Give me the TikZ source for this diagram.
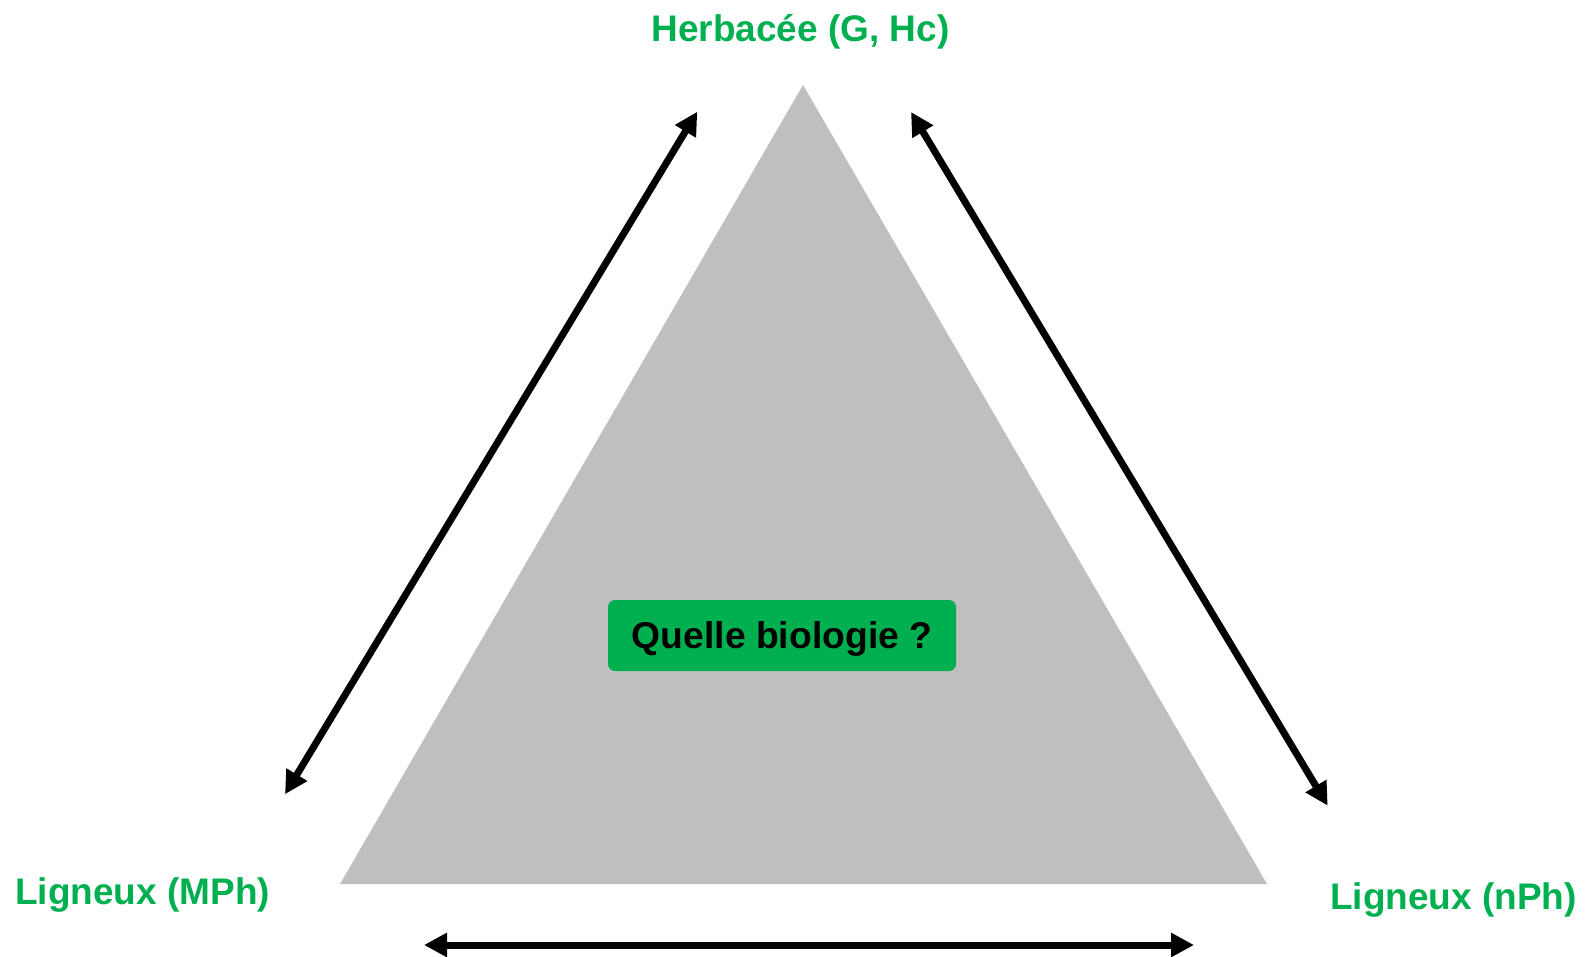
\documentclass[tikz,border=0pt]{standalone}
\usepackage{fontspec}
\setmainfont{Liberation Sans}
\usetikzlibrary{arrows.meta}
\definecolor{leafgreen}{HTML}{00B050}
\definecolor{trigray}{HTML}{BFBFBF}
\begin{document}
\begin{tikzpicture}[x=1pt,y=-1pt,
  lbl/.style={text=leafgreen,font=\fontsize{37}{40}\selectfont\bfseries,inner sep=0pt},
  twoway/.style={draw=black,line width=7pt,{Triangle[length=23pt,width=23pt]}-{Triangle[length=23pt,width=23pt]}},
  qbox/.style={fill=leafgreen,rounded corners=7pt,minimum width=348pt,minimum height=71pt,inner sep=0pt,text height=26.7pt,text depth=0pt,font=\fontsize{37.3}{40}\selectfont\bfseries,text=black}]
\useasboundingbox (0,0) rectangle (1590,957);
% triangle
\coordinate (apex) at (803,85);
\coordinate (bl) at (340,884);
\coordinate (br) at (1267,884);
\fill[trigray] (apex) -- (bl) -- (br) -- cycle;
% box
\node[qbox] (q) at (782,635.5) {Quelle biologie ?};
% labels
\node[lbl,anchor=base] (herb) at (800.5,41.7) {Herbacée (G, Hc)};
\node[lbl,anchor=base west] (mph) at (15,904) {Ligneux (MPh)};
\node[lbl,anchor=base west] (nph) at (1330,909.3) {Ligneux (nPh)};
% arrow ends
\coordinate (la) at (697.3,111.7);
\coordinate (lb) at (285,794.3);
\coordinate (ra) at (911,112);
\coordinate (rb) at (1327.7,805.7);
\coordinate (ba) at (424,945);
\coordinate (bb) at (1194,945);
\draw[twoway] (la) -- (lb);
\draw[twoway] (ra) -- (rb);
\draw[twoway] (ba) -- (bb);
\end{tikzpicture}
\end{document}
